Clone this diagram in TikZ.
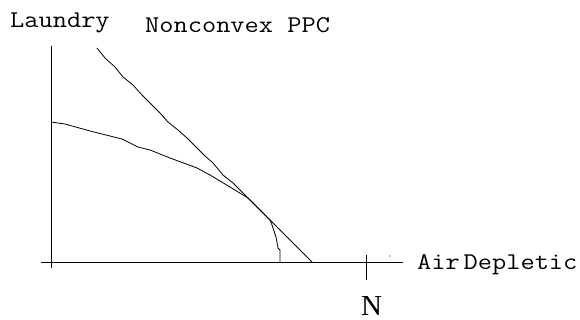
\documentclass[tikz,border=0pt]{standalone}
\usepackage{fontspec}
\newfontfamily\serf{Liberation Serif}
\newcommand{\monotext}[1]{\scalebox{1.15}[1]{\fontsize{24}{24}\ttfamily #1}}
\begin{document}
\begin{tikzpicture}[x=1pt,y=-1pt,
  curve/.style={line width=0.8pt,line join=round},
  axis/.style={line width=0.9pt},
  mono/.style={inner sep=0pt,anchor=base west},
  serflabel/.style={inner sep=0pt,anchor=base west,font=\fontsize{29}{29}\serf}]
\useasboundingbox (0,0) rectangle (580,320);
% axes
\coordinate (ytop) at (51,46);
\coordinate (ybot) at (51,268);
\coordinate (xleft) at (41,262);
\coordinate (xright) at (403,262);
\coordinate (ticktop) at (366,255);
\coordinate (tickbot) at (366,280);
\draw[axis] (ytop) -- (ybot);
\draw[axis] (xleft) -- (xright);
\draw[axis] (ticktop) -- (tickbot);
\fill (390,256) circle (0.7);
% nonconvex curve
\draw[curve] (97,48) -- (105,58) -- (115,67) -- (123,77) -- (133,85) -- (142,95) -- (152,105) -- (160,113) -- (168,122) -- (178,130) -- (187,138) -- (197,148) -- (205,156) -- (213,163) -- (223,175) -- (233,183) -- (248,198) -- (270,220) -- (287,237) -- (312,262);
% concave curve
\draw[curve] (51,122) -- (65,124) -- (90,131) -- (122,139) -- (138,147) -- (150,150) -- (170,158) -- (197,168) -- (210,175) -- (230,187) -- (248,198) -- (270,220) -- (272,225) -- (276,237) -- (278,248) -- (280,250) -- (280,262);
% labels
\node[mono] (laundry) at (10,28) {\monotext{Laundry}};
\node[mono] (title) at (145,33) {\monotext{Nonconvex PPC}};
\node[mono] (air) at (417,269) {\monotext{Air\kern-9pt{} Depletic}};
\node[serflabel] (n) at (361,315) {N};
\end{tikzpicture}
\end{document}
